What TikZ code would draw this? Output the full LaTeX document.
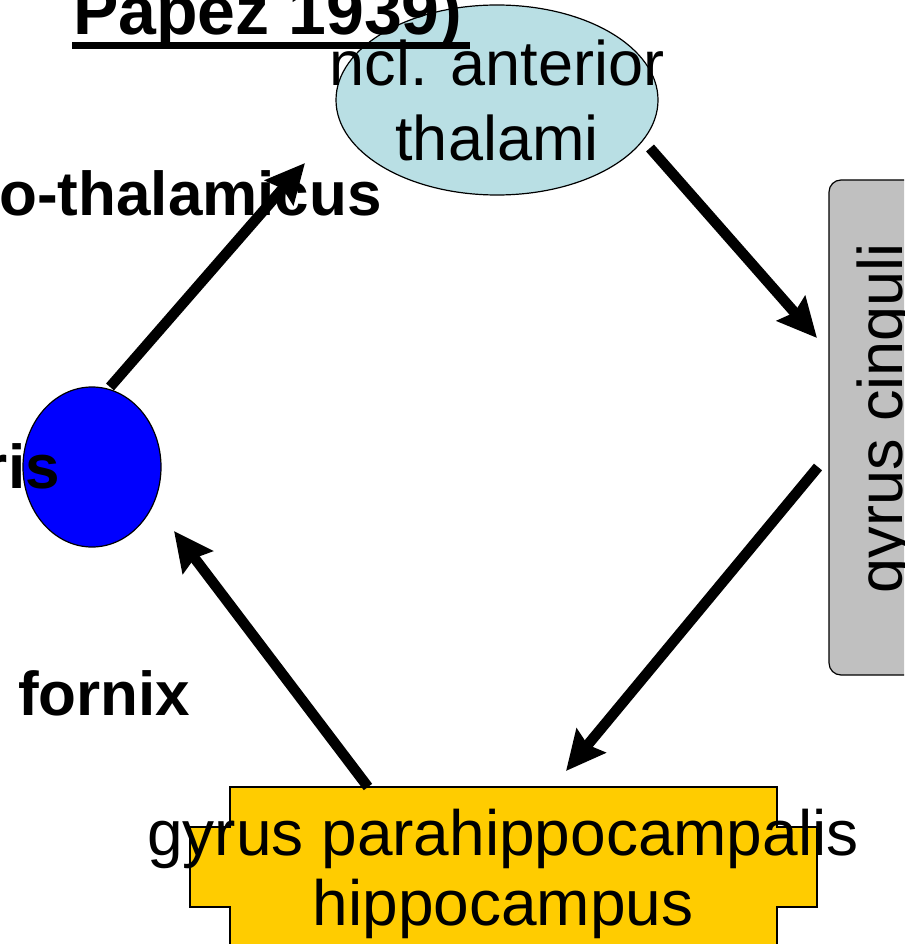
\documentclass[tikz,border=0pt]{standalone}
\usepackage{fontspec}
\setmainfont{Liberation Sans}
\usetikzlibrary{shapes.geometric,arrows.meta,calc}
\definecolor{thalblue}{HTML}{B9DFE4}
\definecolor{cinggray}{HTML}{C0C0C0}
\definecolor{hipyellow}{HTML}{FFCC00}
\definecolor{mamblue}{HTML}{0000FF}
\tikzset{
  lbl/.style={font=\fontsize{63}{75}\selectfont, inner sep=0pt, align=center},
  boldlbl/.style={font=\bfseries\fontsize{62}{72}\selectfont, inner sep=0pt},
  flow/.style={line width=10.5pt, -{Stealth[length=39pt,width=37pt,inset=5pt]}},
  shapeline/.style={draw=black, line width=1.2pt}
}
\begin{document}
\begin{tikzpicture}[x=1pt,y=-1pt]
\useasboundingbox (0,0) rectangle (904,944);
\clip (0,0) rectangle (904,944);

% thalamus ellipse
\node[ellipse, shapeline, fill=thalblue, minimum width=322pt, minimum height=190pt, inner sep=0pt] (thal) at (497,100) {};

% title (drawn over the ellipse)
\node[font=\bfseries\fontsize{68}{80}\selectfont, inner sep=0pt, anchor=base west] (title) at (73,35) {Papez 1939)};
\draw[line width=7pt] (72,45.5) -- (470,45.5);

\node[lbl] (thallbl) at (497,100) {ncl. anterior\\thalami};

% mamillary body
\node[ellipse, shapeline, fill=mamblue, minimum width=138pt, minimum height=160pt, inner sep=0pt] (mam) at (92,467) {};
\node[boldlbl, anchor=base east] (mamlbl) at (60,488) {ris};

% gyrus cinguli
\node[shapeline, fill=cinggray, rounded corners=12pt, minimum width=94pt, minimum height=495pt, inner sep=0pt] (cing) at (876,427.5) {};
\node[font=\fontsize{63}{75}\selectfont, inner sep=0pt, rotate=90, anchor=base] (cinglbl) at (902,418) {gyrus cinguli};

% hippocampus cross shape
\draw[shapeline, fill=hipyellow] (230,787) -- (777,787) -- (777,827) -- (817,827) -- (817,907) -- (777,907) -- (777,990) -- (230,990) -- (230,907) -- (190,907) -- (190,827) -- (230,827) -- cycle;
\node[font=\fontsize{64}{75}\selectfont, inner sep=0pt, anchor=base] (hiplbl1) at (503,855) {gyrus parahippocampalis};
\node[font=\fontsize{64}{75}\selectfont, inner sep=0pt, anchor=base] (hiplbl2) at (503,925) {hippocampus};

% labels
\node[boldlbl, anchor=base east] (mtlbl) at (382,215) {o-thalamicus};
\node[boldlbl, anchor=base west] (fornlbl) at (18,715) {fornix};

% connector end points
\coordinate (a1s) at (110,387);
\coordinate (a1e) at (305,163);
\coordinate (a2s) at (650,148);
\coordinate (a2e) at (817,338);
\coordinate (a3s) at (818,467);
\coordinate (a3e) at (566,771);
\coordinate (a4s) at (368,787);
\coordinate (a4e) at (174,531);

\draw[flow] (a1s) -- (a1e);
\draw[flow] (a2s) -- (a2e);
\draw[flow] (a3s) -- (a3e);
\draw[flow] (a4s) -- (a4e);
\end{tikzpicture}
\end{document}
